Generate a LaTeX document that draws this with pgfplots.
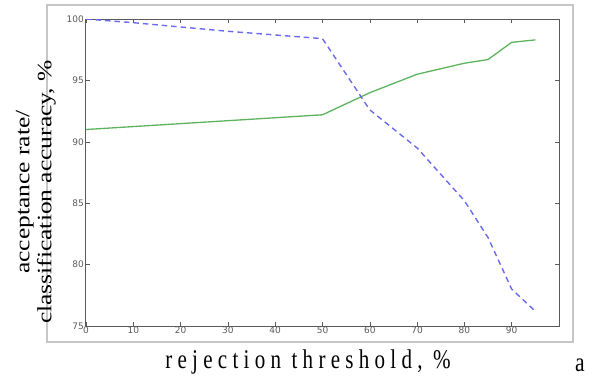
\documentclass[border=0pt]{standalone}
\usepackage{pgfplots}
\pgfplotsset{compat=1.18}
\usepackage{fontspec}
\setmainfont{Liberation Serif}
\newfontfamily\tickfont{DejaVu Sans}
\definecolor{lgreen}{HTML}{5DB35D}
\definecolor{lblue}{HTML}{6A6AF0}
\definecolor{axgray}{HTML}{5A5A5A}
\begin{document}
\begin{tikzpicture}[x=1pt,y=1pt]
\useasboundingbox (-86,-50) rectangle (507,326);
\draw[gray!45, line width=1.3pt] (-39,-16) rectangle (487,321);
\begin{axis}[name=ax, at={(0,0)}, anchor=south west,
  width=473pt, height=307pt, scale only axis,
  xmin=0, xmax=100, ymin=75, ymax=100,
  xtick={0,10,...,90}, ytick={75,80,...,100},
  tick align=inside, xtick pos=both, ytick pos=both,
  major tick length=4pt,
  tick style={axgray, line width=0.6pt},
  axis line style={axgray, line width=1pt},
  ticklabel style={font=\tickfont\fontsize{9}{10}\selectfont, text=axgray},
  /pgf/number format/assume math mode=true,
  xticklabel style={inner sep=1pt},
  yticklabel style={inner sep=2pt},
]
\addplot[lgreen, line width=1.3pt] coordinates {
(0,91.0) (50,92.2) (60,94.0) (70,95.5) (80,96.4) (85,96.7) (90,98.1) (95,98.3)};
\addplot[lblue, line width=1.4pt, dash pattern=on 5.5pt off 4pt] coordinates {
(0,100) (10,99.7) (20,99.35) (30,99.0) (40,98.7) (50,98.4) (60,92.6) (70,89.5) (80,85.2) (85,82.2) (90,78.0) (95,76.2)};
\end{axis}
\node[rotate=90, inner sep=0pt] at (-50,134) {\scalebox{1}[0.8]{\fontsize{25.5}{27.5}\selectfont\begin{tabular}{@{}c@{}}acceptance rate/\\classification accuracy, \%\end{tabular}}};
\node[anchor=base, inner sep=0pt] at (222,-42) {\scalebox{0.78}[1]{\fontsize{27}{28}\selectfont r e j e c t i o n\ \ t h r e s h o l d ,\ \ \%}};
\node[anchor=base, inner sep=0pt] at (494,-45) {\scalebox{0.8}[1]{\fontsize{27}{28}\selectfont a}};
\end{tikzpicture}
\end{document}
